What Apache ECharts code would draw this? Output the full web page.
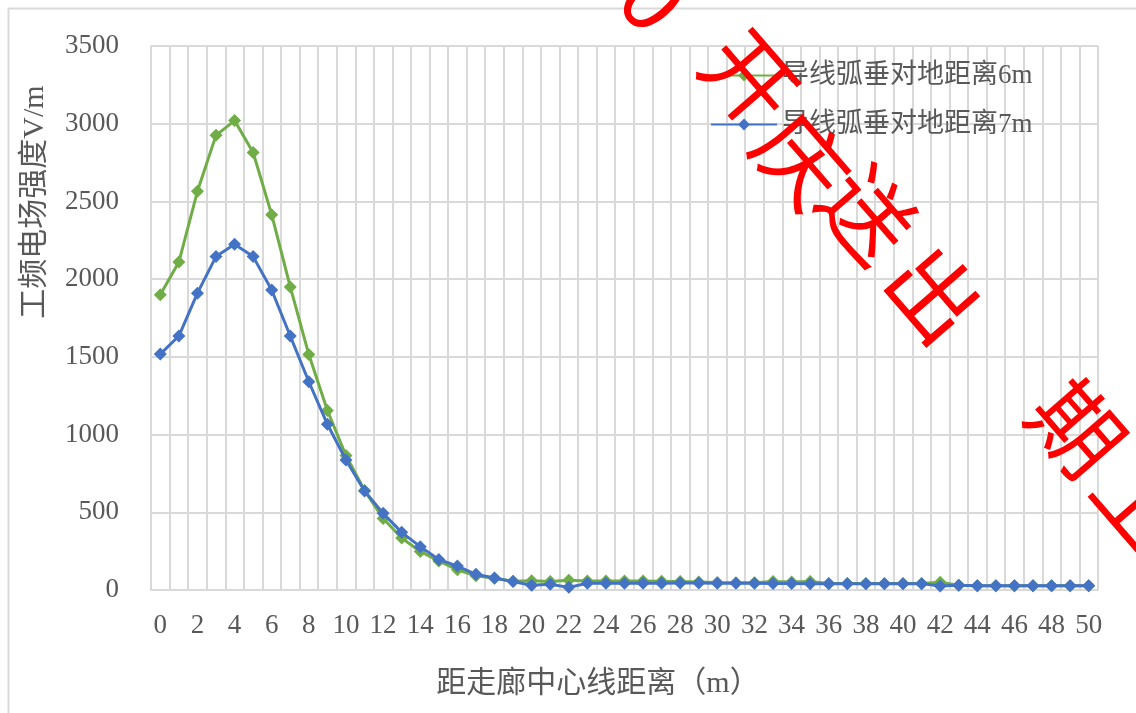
<!DOCTYPE html>
<html>
<head>
<meta charset="utf-8">
<script src="https://cdn.jsdelivr.net/npm/echarts@6/dist/echarts.min.js"></script>
<style>
html,body{margin:0;padding:0;background:#fff;}
#chart{width:1136px;height:713px;}
</style>
</head>
<body>
<div id="chart"></div>
<script>
const categories = ['0','1','2','3','4','5','6','7','8','9','10','11','12','13','14','15','16','17','18','19','20','21','22','23','24','25','26','27','28','29','30','31','32','33','34','35','36','37','38','39','40','41','42','43','44','45','46','47','48','49','50'];
const seriesNames = ['导线弧垂对地距离6m', '导线弧垂对地距离7m'];
const sag6m = [1900, 2110, 2565, 2925, 3020, 2815, 2415, 1950, 1515, 1155, 865, 640, 460, 335, 248, 187, 130, 92, 75, 56, 60, 55, 62, 58, 58, 58, 58, 56, 55, 52, 48, 47, 46, 55, 52, 55, 42, 42, 42, 42, 42, 42, 50, 30, 28, 28, 28, 28, 28, 28, 28];
const sag7m = [1518, 1634, 1910, 2145, 2224, 2145, 1930, 1634, 1340, 1066, 836, 637, 493, 371, 279, 197, 154, 101, 77, 54, 30, 37, 17, 43, 43, 43, 43, 43, 45, 45, 44, 44, 43, 42, 42, 41, 41, 41, 41, 41, 41, 41, 26, 30, 28, 28, 28, 28, 28, 28, 28];
const yTicks = { min: 0, max: 3500, interval: 500 };
const xTitle = '距走廊中心线距离（m）';
const yTitle = '工频电场强度V/m';
const watermarkChars = [
  { t: '0', x: 655, y: -2 },
  { t: '开', x: 750, y: 78 },
  { t: '庆', x: 802, y: 160 },
  { t: '送', x: 868, y: 214 },
  { t: '出', x: 934, y: 294 },
  { t: '期', x: 1077, y: 428 },
  { t: '上', x: 1142, y: 503 }
];

const FONT = "'Liberation Serif', 'Noto Sans CJK SC', serif";
const TXT = '#595959';
const GRID = '#D9D9D9';
const GREEN = '#70AD47';
const BLUE = '#4472C4';
const rot = -49 * Math.PI / 180;

const chart = echarts.init(document.getElementById('chart'), null, { renderer: 'canvas' });

const graphics = [
  { type: 'rect', z: -10, silent: true, shape: { x: 8.5, y: 8.5, width: 1300, height: 900 }, style: { fill: null, stroke: GRID, lineWidth: 2 } },
  { type: 'text', x: 598, y: 684, style: { text: xTitle, align: 'center', verticalAlign: 'middle', fontSize: 30, fontFamily: FONT, fill: TXT } },
  { type: 'text', x: 35, y: 202, rotation: Math.PI / 2, style: { text: yTitle, align: 'center', verticalAlign: 'middle', fontSize: 30, fontFamily: FONT, fill: TXT } }
];
watermarkChars.forEach(function (c) {
  graphics.push({ type: 'text', z: 100, x: c.x, y: c.y, rotation: rot, style: { text: c.t, align: 'center', verticalAlign: 'middle', fontSize: 90, fontFamily: "'Noto Sans CJK SC', sans-serif", fill: '#FF0000' } });
});

chart.setOption({
  animation: false,
  backgroundColor: '#fff',
  grid: { left: 151, top: 46, right: 38, bottom: 123, containLabel: false },
  legend: {
    orient: 'vertical',
    left: 705,
    top: 57,
    padding: 5,
    itemWidth: 66,
    itemHeight: 15,
    itemGap: 22,
    textStyle: { fontSize: 27, fontFamily: FONT, color: TXT },
    data: seriesNames
  },
  xAxis: {
    type: 'category',
    data: categories,
    boundaryGap: true,
    axisLine: { show: true, lineStyle: { color: GRID, width: 2 } },
    axisTick: { show: false },
    axisLabel: { interval: 1, margin: 22, fontSize: 27, fontFamily: FONT, color: TXT },
    splitLine: { show: true, interval: 0, lineStyle: { color: GRID, width: 2 } }
  },
  yAxis: {
    type: 'value',
    min: yTicks.min,
    max: yTicks.max,
    interval: yTicks.interval,
    axisLine: { show: false },
    axisTick: { show: false },
    axisLabel: { margin: 32, fontSize: 27, fontFamily: FONT, color: TXT, formatter: function (v) { return String(v); } },
    splitLine: { show: true, lineStyle: { color: GRID, width: 2 } }
  },
  series: [
    {
      name: seriesNames[0], type: 'line', data: sag6m,
      symbol: 'diamond', symbolSize: 13, showSymbol: true, showAllSymbol: true,
      itemStyle: { color: GREEN }, lineStyle: { color: GREEN, width: 3 }, z: 2
    },
    {
      name: seriesNames[1], type: 'line', data: sag7m,
      symbol: 'diamond', symbolSize: 13, showSymbol: true, showAllSymbol: true,
      itemStyle: { color: BLUE }, lineStyle: { color: BLUE, width: 3 }, z: 3
    }
  ],
  graphic: graphics
});
</script>
</body>
</html>
